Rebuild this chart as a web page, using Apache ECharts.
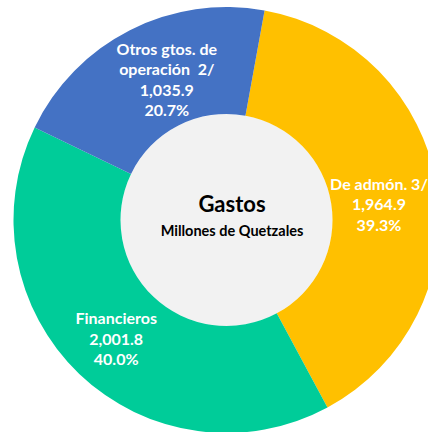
<!DOCTYPE html>
<html>
<head>
<meta charset="utf-8">
<script src="https://cdn.jsdelivr.net/npm/echarts@6/dist/echarts.min.js"></script>
<style>
  html, body { margin: 0; padding: 0; background: #fff; }
  #chart { width: 428px; height: 432px; }
</style>
</head>
<body>
<div id="chart"></div>
<script>
// datos del gráfico (millones de quetzales)
const categories = ['De admón. 3/', 'Financieros', 'Otros gtos. de\noperación  2/'];
const values = [1964.9, 2001.8, 1035.9];
const colors = ['#FFC000', '#00CC99', '#4472C4'];
const labelOffsets = [[-8, 9], [2, 1], [14, 4]];

const FONT = 'Lato, "Open Sans", sans-serif';

const chart = echarts.init(document.getElementById('chart'), null, { renderer: 'svg' });

function fmtNum(v) {
  return v.toLocaleString('en-US', { minimumFractionDigits: 1, maximumFractionDigits: 1 });
}

const option = {
  backgroundColor: '#ffffff',
  animation: false,
  title: {
    text: 'Gastos',
    subtext: 'Millones de Quetzales',
    left: 227,
    top: 187,
    textAlign: 'center',
    itemGap: 9,
    textStyle: { fontFamily: FONT, fontSize: 22, fontWeight: 'bold', color: '#000' },
    subtextStyle: { fontFamily: FONT, fontSize: 14.5, fontWeight: 'bold', color: '#000' }
  },
  series: [
    {
      // círculo central gris
      type: 'pie',
      silent: true,
      center: [226.5, 220],
      radius: [0, 106],
      label: { show: false },
      itemStyle: { color: '#F2F2F2' },
      data: [{ value: 1, name: '' }]
    },
    {
      type: 'pie',
      center: [226.5, 220],
      radius: [106, 213],
      startAngle: 79.7,
      clockwise: true,
      avoidLabelOverlap: false,
      itemStyle: { borderWidth: 0 },
      label: {
        show: true,
        position: 'inside',
        color: '#fff',
        fontFamily: FONT,
        fontSize: 16,
        fontWeight: 'bold',
        lineHeight: 20.5,
        formatter: function (p) {
          return p.name + '\n' + fmtNum(p.value) + '\n' + p.percent.toFixed(1) + '%';
        }
      },
      labelLine: { show: false },
      data: categories.map(function (c, i) {
        return {
          name: c,
          value: values[i],
          itemStyle: { color: colors[i] },
          label: { offset: labelOffsets[i] }
        };
      })
    }
  ]
};

chart.setOption(option);
</script>
</body>
</html>
